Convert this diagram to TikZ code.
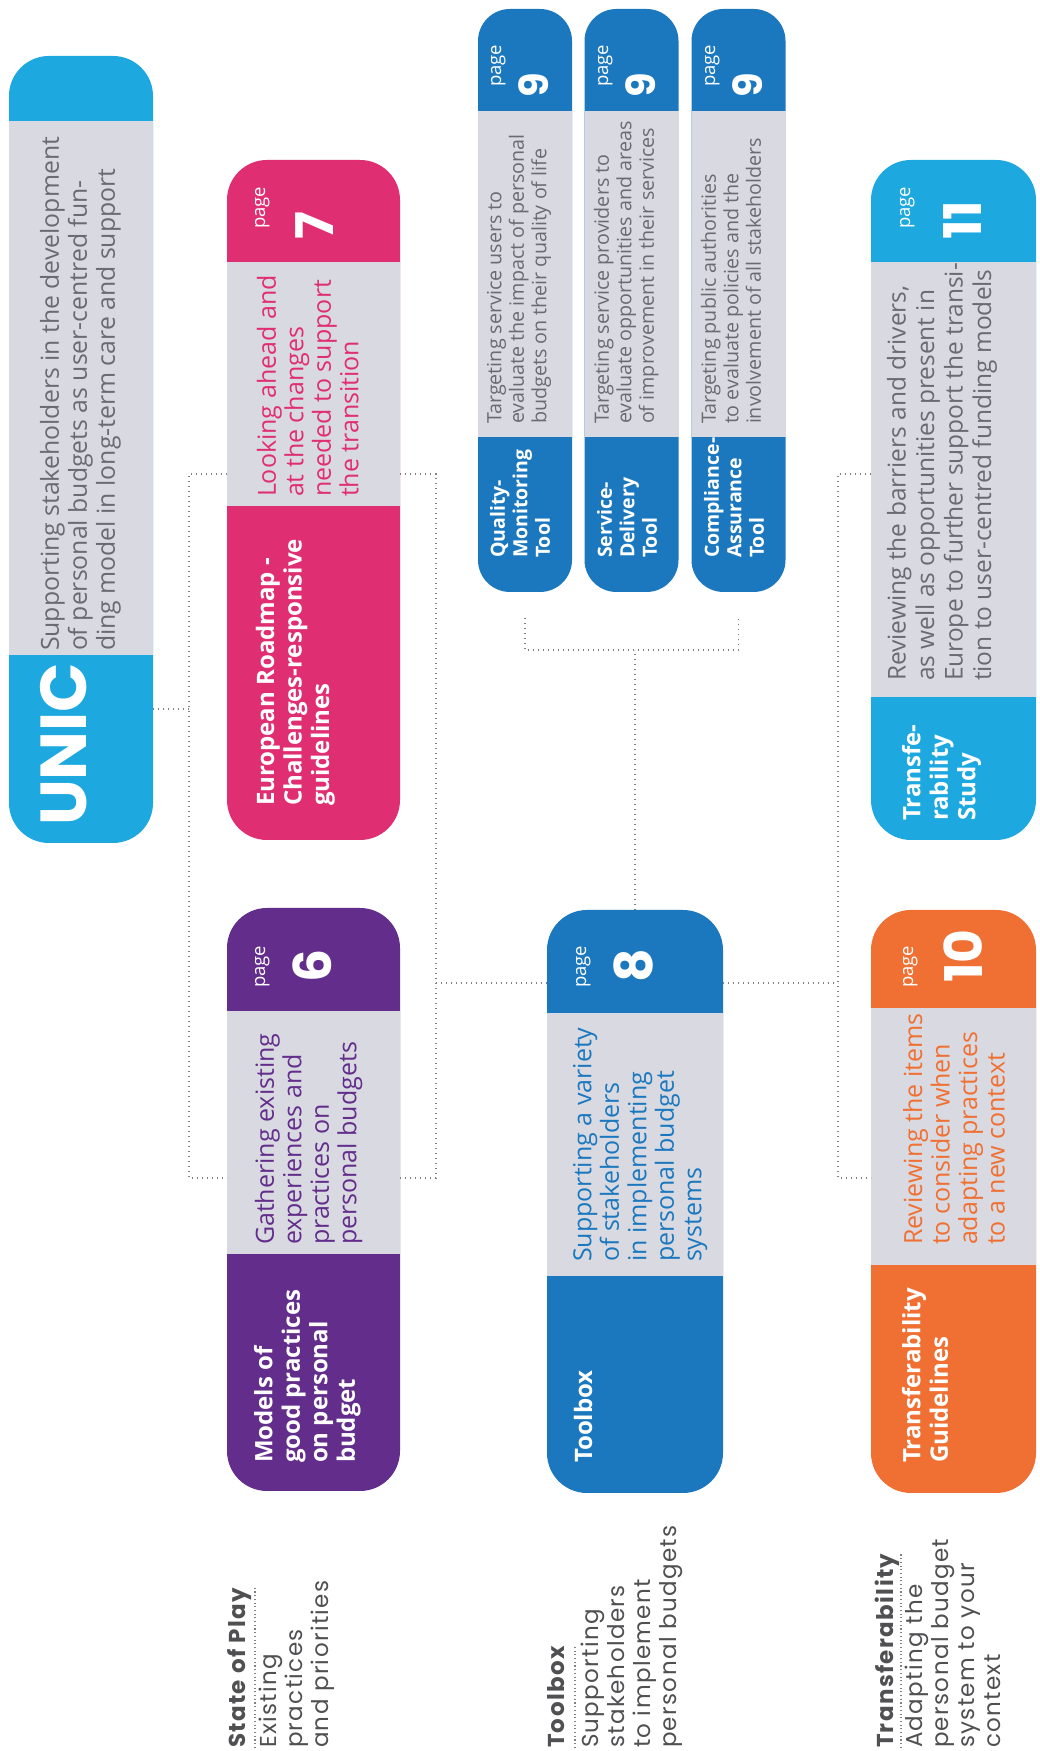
\documentclass[tikz,border=0pt]{standalone}
\usepackage{fontspec}
\setmainfont{Open Sans}
\newfontfamily\popp{Poppins}
\newfontfamily\poppw[LetterSpace=6]{Poppins}
\definecolor{lblue}{HTML}{1DA8E0}
\definecolor{pinkc}{HTML}{DF2F72}
\definecolor{purp}{HTML}{632D8B}
\definecolor{dblue}{HTML}{1C78BE}
\definecolor{orng}{HTML}{F07033}
\definecolor{greyc}{HTML}{D9DAE1}
\definecolor{txtg}{HTML}{6A6B70}
\definecolor{labg}{HTML}{505053}
\definecolor{dotc}{HTML}{808080}
\tikzset{
  bigbox/.style={rectangle, rounded corners=40pt, inner sep=0pt, outer sep=0pt},
  toolbox/.style={rectangle, rounded corners=32pt, inner sep=0pt, outer sep=0pt, fill=dblue, minimum width=94pt, minimum height=583pt},
  txt/.style={rotate=90, anchor=north west, inner sep=0pt, outer sep=0pt, align=left},
  desc/.style={txt, font={\fontsize{25}{27.5}\selectfont}},
  ttl/.style={txt, text=white, font={\bfseries\fontsize{24}{27.5}\selectfont}},
  tdesc/.style={txt, text=txtg, font={\fontsize{19.7}{22.5}\selectfont}},
  tttl/.style={txt, text=white, font={\bfseries\fontsize{19.5}{22.5}\selectfont}},
  pg/.style={txt, text=white, font={\fontsize{18.5}{20}\selectfont}},
  num/.style={txt, text=white, font={\popp\bfseries\fontsize{52}{52}\selectfont}},
  tnum/.style={txt, text=white, font={\popp\bfseries\fontsize{40}{40}\selectfont}},
  labttl/.style={txt, text=labg, font={\poppw\bfseries\fontsize{23}{26}\selectfont}},
  labtxt/.style={txt, text=labg, font={\poppw\fontsize{23}{26}\selectfont}},
  conn/.style={draw=dotc, line width=1.4pt, dash pattern=on 1.4pt off 3.6pt},
  uconn/.style={draw=dotc, line width=1.1pt, dash pattern=on 1.1pt off 2.6pt},
}
\begin{document}
\begin{tikzpicture}[x=1pt,y=1pt]
\useasboundingbox (0,0) rectangle (1040,1751);
\fill[white] (0,0) rectangle (1040,1751);

% ---------- boxes ----------
\node[bigbox, fill=lblue, minimum width=144pt, minimum height=787pt] (unic) at (81,1301.5) {};
\fill[greyc] (9,1096) rectangle (153,1630);

\node[bigbox, fill=pinkc, minimum width=173pt, minimum height=680pt] (pink) at (313.5,1251) {};
\fill[greyc] (227,1245) rectangle (400,1489);

\node[bigbox, fill=purp, minimum width=173pt, minimum height=583pt] (purple) at (313.5,551.5) {};
\fill[greyc] (227,497) rectangle (400,740);

\node[bigbox, fill=dblue, minimum width=176pt, minimum height=583pt] (tbox) at (635,549.5) {};
\fill[greyc] (547,475) rectangle (723,738);

\node[bigbox, fill=orng, minimum width=165pt, minimum height=583pt] (orange) at (953.5,549.5) {};
\fill[greyc] (871,486) rectangle (1036,743);

\node[bigbox, fill=lblue, minimum width=165pt, minimum height=680pt] (study) at (953.5,1251) {};
\fill[greyc] (871,1054) rectangle (1036,1489);

\node[toolbox] (quality) at (525,1450.5) {};
\fill[greyc] (478,1314) rectangle (572,1640);
\node[toolbox] (service) at (631.5,1450.5) {};
\fill[greyc] (584.5,1314) rectangle (678.5,1640);
\node[toolbox] (compl) at (738.5,1450.5) {};
\fill[greyc] (691.5,1314) rectangle (785.5,1640);

% ---------- connectors ----------
\coordinate (a1) at (189,1277);
\coordinate (a2) at (189,573);
\coordinate (aU) at (189,1042);
\coordinate (b1) at (436,1277);
\coordinate (b2) at (436,573);
\coordinate (bT) at (436,768);
\coordinate (c1) at (838,1277);
\coordinate (c2) at (838,573);
\coordinate (cT) at (838,768);
\coordinate (t0) at (635,1101);
\coordinate (tq) at (525,1101);
\coordinate (tc) at (738.5,1101);

\draw[conn] (unic.east |- aU) -- (aU);
\draw[conn] (pink.west |- a1) -- (a1) -- (a2) -- (purple.west |- a2);
\draw[conn] (pink.east |- b1) -- (b1) -- (b2) -- (purple.east |- b2);
\draw[conn] (bT) -- (tbox.west |- bT);
\draw[conn] (tbox.east |- cT) -- (cT);
\draw[conn] (study.west |- c1) -- (c1) -- (c2) -- (orange.west |- c2);
\draw[conn] (tbox.north) -- (t0);
\draw[conn] ([yshift=-26pt]quality.south) -- (tq) -- (tc) -- ([yshift=-26pt]compl.south);

% ---------- texts ----------
\node[txt, text=white, font={\popp\bfseries\fontsize{65}{65}\selectfont}] (unict) at (40,925) {UNIC};
\node[desc, text=txtg, font={\fontsize{24.8}{28}\selectfont}] (unicd) at (40,1100) {Supporting stakeholders in the development\\of personal budgets as user-centred fun-\\ding model in long-term care and support};

\node[ttl] (pinkt) at (256,945) {European Roadmap -\\Challenges-responsive\\guidelines};
\node[desc, text=pinkc] (pinkd) at (257,1254) {Looking ahead and\\at the changes\\needed to support\\the transition};
\node[pg] (pinkp) at (255,1522) {page};
\node[num] (pinkn) at (296,1511) {7};

\node[ttl] (purpt) at (254,288) {Models of\\good practices\\on personal\\budget};
\node[desc, text=purp] (purpd) at (255,506) {Gathering existing\\experiences and\\practices on\\personal budgets};
\node[pg] (purpp) at (255,763) {page};
\node[num] (purpn) at (293,768) {6};

\node[ttl] (tboxt) at (574,288) {Toolbox};
\node[desc, text=dblue] (tboxd) at (573,489) {Supporting a variety\\of stakeholders\\in implementing\\personal budget\\systems};
\node[pg] (tboxp) at (576,763) {page};
\node[num] (tboxn) at (614,768) {8};

\node[ttl] (orat) at (902,288) {Transferability\\Guidelines};
\node[desc, text=orng] (orad) at (903,506) {Reviewing the items\\to consider when\\adapting practices\\to a new context};
\node[pg] (orap) at (903,763) {page};
\node[num] (oran) at (944,768) {10};

\node[ttl] (studyt) at (902,930) {Transfe-\\rability\\Study};
\node[desc, text=txtg, font={\fontsize{24.5}{28.5}\selectfont}] (studyd) at (887,1070) {Reviewing the barriers and drivers,\\as well as opportunities present in\\Europe to further support the transi-\\tion to user-centred funding models};
\node[pg] (studyp) at (900,1522) {page};
\node[num] (studyn) at (944,1511) {11};

\node[tttl] (qt) at (490,1193) {Quality-\\Monitoring\\Tool};
\node[tdesc] (qd) at (487,1327) {Targeting service users to\\evaluate the impact of personal\\budgets on their quality of life};
\node[pg] (qp) at (491,1664) {page};
\node[tnum] (qn) at (519,1653) {9};

\node[tttl] (st) at (597,1193) {Service-\\Delivery\\Tool};
\node[tdesc] (sd) at (594,1327) {Targeting service providers to\\evaluate opportunities and areas\\of improvement in their services};
\node[pg] (sp) at (598,1664) {page};
\node[tnum] (sn) at (626,1653) {9};

\node[tttl] (ct) at (704,1193) {Compliance-\\Assurance\\Tool};
\node[tdesc] (cd) at (701,1327) {Targeting public authorities\\to evaluate policies and the\\involvement of all stakeholders};
\node[pg] (cp) at (705,1664) {page};
\node[tnum] (cn) at (733,1653) {9};

% ---------- bottom labels ----------
\node[labttl] (l1t) at (227,3) {State of Play};
\coordinate (l1a) at (255,3);
\draw[uconn] (l1a) -- (l1a |- l1t.north east);
\node[labtxt] (l1d) at (259,3) {Existing\\practices\\and priorities};

\node[labttl] (l2t) at (547,3) {Toolbox};
\coordinate (l2a) at (575,3);
\draw[uconn] (l2a) -- (l2a |- l2t.north east);
\node[labtxt] (l2d) at (581,3) {Supporting\\stakeholders\\to implement\\personal budgets};

\node[labttl] (l3t) at (875,3) {Transferability};
\coordinate (l3a) at (901,3);
\draw[uconn] (l3a) -- (l3a |- l3t.north east);
\node[labtxt] (l3d) at (905,3) {Adapting the\\personal budget\\system to your\\context};
\end{tikzpicture}
\end{document}
